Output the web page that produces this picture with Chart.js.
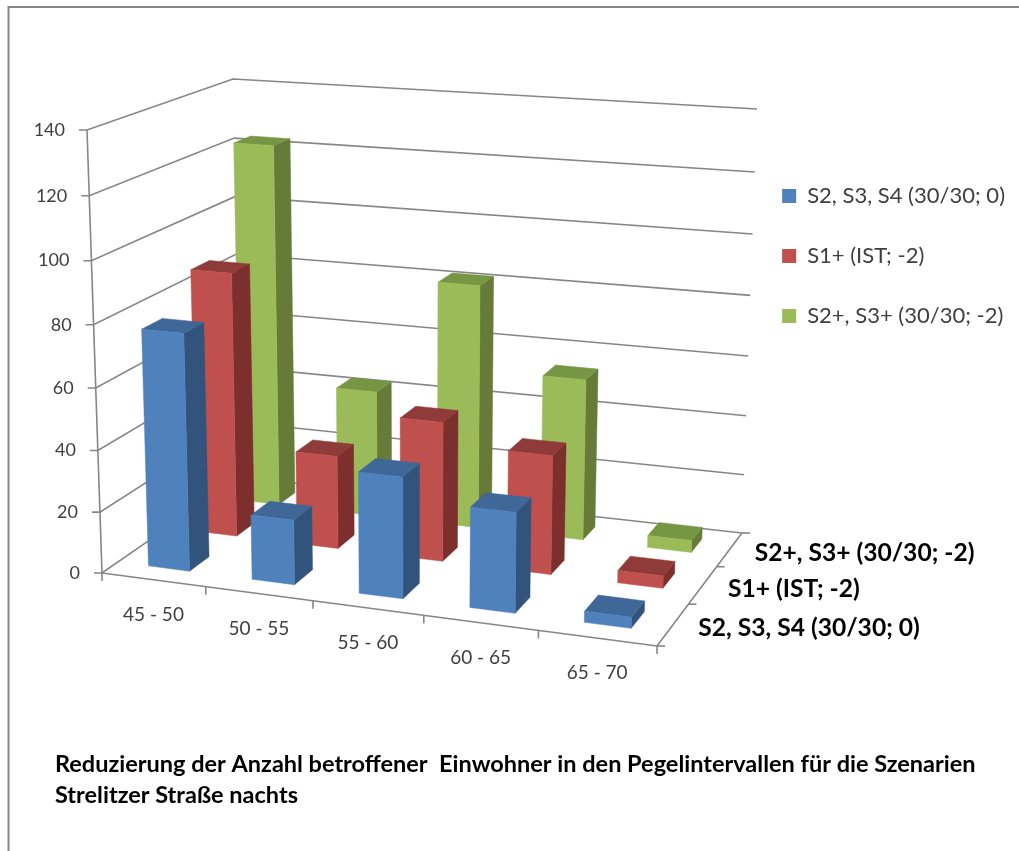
<!DOCTYPE html>
<html>
<head>
<meta charset="utf-8">
<style>
  html, body { margin: 0; padding: 0; background: #fff; }
  canvas { display: block; }
</style>
<script src="https://cdn.jsdelivr.net/npm/chart.js@4"></script>
</head>
<body>
<canvas id="myChart" width="1019" height="851"></canvas>
<script>
const categories = ["45 - 50", "50 - 55", "55 - 60", "60 - 65", "65 - 70"];
const seriesNames = ["S2, S3, S4 (30/30; 0)", "S1+ (IST; -2)", "S2+, S3+ (30/30; -2)"];
const blueValues = [77, 21, 39, 32, 3.5];
const redValues = [88, 31, 46, 39, 4];
const greenValues = [123, 43, 82, 54, 4];
const titleLines = [
    "Reduzierung der Anzahl betroffener  Einwohner in den Pegelintervallen für die Szenarien",
    "Strelitzer Straße nachts"
];

const GRID = "#868686";
const FACES = [
    {front: "#4F81BD", top: "#3F6797", side: "#32547C"},
    {front: "#C0504D", top: "#8F3B39", side: "#7D2F2D"},
    {front: "#9BBB59", top: "#779644", side: "#677B38"}
];

// corners of the 3d box in canvas pixels, first letter front/back, second left/right, 0 floor 1 top
const BOX = {
    FL0: [102, 573], FL1: [87, 130],
    BL0: [241, 477], BL1: [233, 79],
    FR0: [657, 646], FR1: [669, 176],
    BR0: [742, 533], BR1: [757, 109]
};

// perspective makes the spacing uneven along each edge
function warp(t, k) {
    return t * (1 + k) / (1 + k * t);
}
function mix(a, b, t) {
    return [a[0] + (b[0] - a[0]) * t, a[1] + (b[1] - a[1]) * t];
}
// u left to right, v front to back, w floor to top, all 0..1
function project(u, v, w) {
    const uu = warp(u, -0.08), vv = warp(v, 0.175), ww = warp(w, -0.044);
    const floor = mix(mix(BOX.FL0, BOX.FR0, uu), mix(BOX.BL0, BOX.BR0, uu), vv);
    const top = mix(mix(BOX.FL1, BOX.FR1, uu), mix(BOX.BL1, BOX.BR1, uu), vv);
    return mix(floor, top, ww);
}

function poly(ctx, pts, color) {
    ctx.beginPath();
    ctx.moveTo(pts[0][0], pts[0][1]);
    for (let i = 1; i < pts.length; i++) ctx.lineTo(pts[i][0], pts[i][1]);
    ctx.closePath();
    ctx.fillStyle = color;
    ctx.strokeStyle = color;
    ctx.lineWidth = 0.5;
    ctx.fill();
    ctx.stroke();
}
function line(ctx, a, b) {
    ctx.beginPath();
    ctx.moveTo(a[0], a[1]);
    ctx.lineTo(b[0], b[1]);
    ctx.stroke();
}
function decimal(scale, value) {
    return (scale.getPixelForValue(value) - scale.left) / scale.width;
}
function valueDecimal(scale, value) {
    return (scale.bottom - scale.getPixelForValue(value)) / scale.height;
}

const box3d = {
    id: "box3d",
    beforeDatasetsDraw(chart) {
        const ctx = chart.ctx;
        const {x, y, z} = chart.scales;
        ctx.save();

        // frame of the picture
        ctx.strokeStyle = GRID;
        ctx.lineWidth = 2;
        ctx.beginPath();
        ctx.moveTo(8.5, chart.height);
        ctx.lineTo(8.5, 7);
        ctx.lineTo(chart.width, 7);
        ctx.stroke();

        ctx.lineWidth = 1.6;
        ctx.font = "18px Lato";
        ctx.textBaseline = "middle";

        // gridlines run along the left wall and the back wall
        y.ticks.forEach(t => {
            const w = valueDecimal(y, t.value);
            const front = project(0, 0, w);
            ctx.strokeStyle = GRID;
            ctx.beginPath();
            ctx.moveTo(front[0] - 8, front[1]);
            ctx.lineTo(front[0], front[1]);
            const back = project(0, 1, w);
            ctx.lineTo(back[0], back[1]);
            const end = project(1, 1, w);
            ctx.lineTo(end[0], end[1]);
            ctx.stroke();
            ctx.fillStyle = "#404040";
            ctx.textAlign = "right";
            ctx.fillText(t.label, front[0] - 22, front[1]);
        });
        ctx.strokeStyle = GRID;
        line(ctx, project(0, 0, 0), project(0, 0, 1));

        // floor edges
        line(ctx, project(0, 0, 0), project(1, 0, 0));
        line(ctx, project(1, 0, 0), project(1, 1, 0));
        for (let i = 0; i <= categories.length; i++) {
            const p = project(i / categories.length, 0, 0);
            line(ctx, p, [p[0], p[1] + 8]);
        }
        for (let i = 0; i <= seriesNames.length; i++) {
            const p = project(1, i / seriesNames.length, 0);
            line(ctx, p, [p[0] + 8, p[1]]);
        }

        // category and series names
        ctx.textAlign = "center";
        ctx.fillStyle = "#404040";
        ctx.font = "19px Lato";
        categories.forEach((c, i) => {
            const p = project(decimal(x, i), 0, 0);
            ctx.fillText(c, p[0], p[1] + 35);
        });
        ctx.textAlign = "left";
        ctx.fillStyle = "#000";
        ctx.font = "bold 24.6px Lato";
        seriesNames.forEach((s, i) => {
            const p = project(1, decimal(z, i), 0);
            ctx.fillText(s, p[0] + 25, p[1] + 4);
        });
        ctx.restore();
    },
    beforeDatasetDraw(chart, args) {
        const ctx = chart.ctx;
        const {x, y, z} = chart.scales;
        const s = args.index;
        const face = FACES[s];
        const du = 0.2 / categories.length;
        const dv = 0.2 / seriesNames.length;
        const values = chart.data.datasets[s].data;
        values.forEach((val, i) => {
            const u = decimal(x, i), v = decimal(z, s), w = valueDecimal(y, val);
            const p = (a, b, c) => project(u + a * du, v + b * dv, c);
            poly(ctx, [p(1, -1, 0), p(1, 1, 0), p(1, 1, w), p(1, -1, w)], face.side);
            poly(ctx, [p(-1, -1, w), p(1, -1, w), p(1, 1, w), p(-1, 1, w)], face.top);
            poly(ctx, [p(-1, -1, 0), p(1, -1, 0), p(1, -1, w), p(-1, -1, w)], face.front);
        });
        return false;
    }
};

new Chart(document.getElementById("myChart"), {
    type: "bar",
    plugins: [box3d],
    data: {
        labels: categories,
        datasets: [
            {label: seriesNames[0], data: blueValues, backgroundColor: FACES[0].front, borderWidth: 0},
            {label: seriesNames[1], data: redValues, backgroundColor: FACES[1].front, borderWidth: 0},
            {label: seriesNames[2], data: greenValues, backgroundColor: FACES[2].front, borderWidth: 0}
        ]
    },
    options: {
        responsive: false,
        animation: false,
        layout: {padding: {left: 55, right: 4, top: 147, bottom: 41}},
        plugins: {
            tooltip: {enabled: false},
            title: {
                display: true,
                position: "bottom",
                align: "start",
                text: titleLines,
                color: "#000",
                font: {family: "Lato", size: 23.5, weight: "bold", lineHeight: 1.28},
                padding: 0
            },
            legend: {
                position: "right",
                align: "start",
                labels: {
                    color: "#404040",
                    font: {family: "Lato", size: 22},
                    boxWidth: 14,
                    boxHeight: 14,
                    padding: 38
                }
            }
        },
        scales: {
            x: {type: "category", offset: true, display: false},
            z: {type: "category", axis: "x", labels: seriesNames, offset: true, display: false},
            y: {type: "linear", min: 0, max: 140, ticks: {stepSize: 20}, display: false}
        }
    }
});
</script>
</body>
</html>
